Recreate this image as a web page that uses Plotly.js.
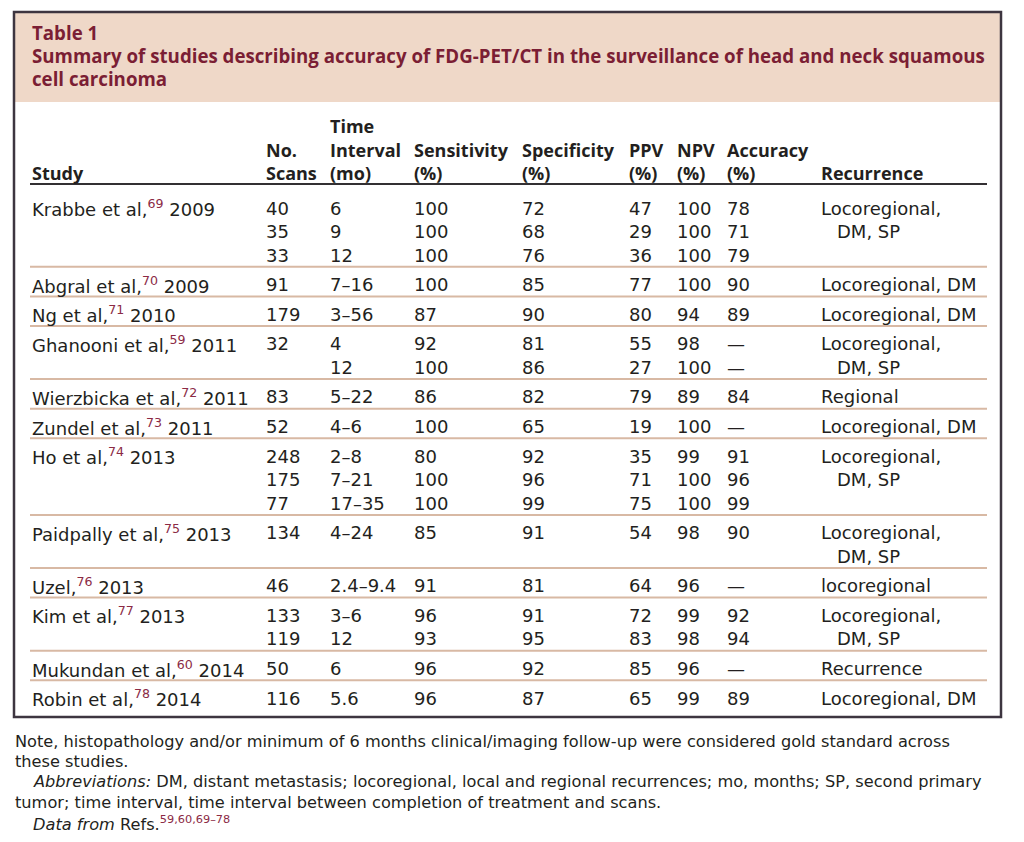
<!DOCTYPE html>
<html>
<head>
<meta charset="utf-8">
<script src="https://cdn.plot.ly/plotly-3.0.1.min.js"></script>
<style>html,body{margin:0;padding:0;background:#fff;}#chart{width:1024px;height:842px;}</style>
</head>
<body>
<div id="chart"></div>
<script>
// ---------- DATA ----------
const tableNumber = "Table 1";
const tableTitle = ["Summary of studies describing accuracy of FDG-PET/CT in the surveillance of head and neck squamous", "cell carcinoma"];
const headers = [["Study"], ["No.", "Scans"], ["Time", "Interval", "(mo)"], ["Sensitivity", "(%)"], ["Specificity", "(%)"], ["PPV", "(%)"], ["NPV", "(%)"], ["Accuracy", "(%)"], ["Recurrence"]];
const studies = ["Krabbe et al,", "Abgral et al,", "Ng et al,", "Ghanooni et al,", "Wierzbicka et al,", "Zundel et al,", "Ho et al,", "Paidpally et al,", "Uzel,", "Kim et al,", "Mukundan et al,", "Robin et al,"];
const refs = ["69", "70", "71", "59", "72", "73", "74", "75", "76", "77", "60", "78"];
const years = ["2009", "2009", "2010", "2011", "2011", "2011", "2013", "2013", "2013", "2013", "2014", "2014"];
const rowStudy = [0, 0, 0, 1, 2, 3, 3, 4, 5, 6, 6, 6, 7, 7, 8, 9, 9, 10, 11];
const scans = ["40", "35", "33", "91", "179", "32", "", "83", "52", "248", "175", "77", "134", "", "46", "133", "119", "50", "116"];
const interval = ["6", "9", "12", "7–16", "3–56", "4", "12", "5–22", "4–6", "2–8", "7–21", "17–35", "4–24", "", "2.4–9.4", "3–6", "12", "6", "5.6"];
const sensitivity = ["100", "100", "100", "100", "87", "92", "100", "86", "100", "80", "100", "100", "85", "", "91", "96", "93", "96", "96"];
const specificity = ["72", "68", "76", "85", "90", "81", "86", "82", "65", "92", "96", "99", "91", "", "81", "91", "95", "92", "87"];
const ppv = ["47", "29", "36", "77", "80", "55", "27", "79", "19", "35", "71", "75", "54", "", "64", "72", "83", "85", "65"];
const npv = ["100", "100", "100", "100", "94", "98", "100", "89", "100", "99", "100", "100", "98", "", "96", "99", "98", "96", "99"];
const accuracy = ["78", "71", "79", "90", "89", "—", "—", "84", "—", "91", "96", "99", "90", "", "—", "92", "94", "—", "89"];
const recurrence = ["Locoregional,", "DM, SP", "", "Locoregional, DM", "Locoregional, DM", "Locoregional,", "DM, SP", "Regional", "Locoregional, DM", "Locoregional,", "DM, SP", "", "Locoregional,", "DM, SP", "locoregional", "Locoregional,", "DM, SP", "Recurrence", "Locoregional, DM"];
const notes = [
  "Note, histopathology and/or minimum of 6 months clinical/imaging follow-up were considered gold standard across",
  "these studies.",
  "<i>Abbreviations:</i> DM, distant metastasis; locoregional, local and regional recurrences; mo, months; SP, second primary",
  "tumor; time interval, time interval between completion of treatment and scans.",
  "<i>Data from</i> Refs.<sup style=\"color:#8b2a45\">59,60,69–78</sup>"
];

// ---------- LAYOUT / STYLE ----------
const FONT_BOLD = "'Open Sans', 'Noto Sans', sans-serif";
const FONT_BODY = "'DejaVu Sans', 'Open Sans', sans-serif";
const TXT = "#231f20";
const RED = "#7b1e34";
const SUPRED = "#8b2a45";
const colX = [30, 264, 328, 412, 520, 627, 675, 725, 819];
const recurIndent = 16;
const lineX0 = 30, lineX1 = 987;
const firstRowY = 208, rowStep = 23.5, groupStep = 29.6, sepOffset = 11.8;
const BODY = 18, HEAD = 18, TITLE = 18.7, NOTE = 16.2;

const annotations = [];
const shapes = [];
function addText(x, y, text, size, color, bold, family) {
  annotations.push({
    xref: "x", yref: "y", x: x, y: y, text: bold ? "<b>" + text + "</b>" : text,
    showarrow: false, xanchor: "left", yanchor: "middle", align: "left",
    font: {family: family, size: size, color: color}
  });
}

// Header band
shapes.push({type: "rect", xref: "x", yref: "y", x0: 14, x1: 1001, y0: 12, y1: 102, fillcolor: "#efd8c8", line: {width: 0}, layer: "below"});
// Title
addText(30, 32, tableNumber, TITLE, RED, true, FONT_BOLD);
tableTitle.forEach((t, i) => addText(30, 55 + i * 23, t, TITLE, RED, true, FONT_BOLD));

// Column headers (bottom aligned)
const headBottom = 173;
headers.forEach((lines, c) => {
  lines.forEach((ln, i) => {
    const y = headBottom - (lines.length - 1 - i) * 23.5;
    addText(colX[c], y, ln, HEAD, TXT, true, FONT_BOLD);
  });
});
shapes.push({type: "line", xref: "x", yref: "y", x0: lineX0, x1: lineX1, y0: 184, y1: 184, line: {color: "#333033", width: 2}});

// Body rows: y positions from row order and group breaks
const rowY = [];
rowStudy.forEach((g, r) => {
  let y = firstRowY;
  if (r > 0) {
    if (g !== rowStudy[r - 1]) {
      const sepY = rowY[r - 1] + sepOffset;
      shapes.push({type: "line", xref: "x", yref: "y", x0: lineX0, x1: lineX1, y0: sepY, y1: sepY, line: {color: "#d8b9a4", width: 2}});
      y = rowY[r - 1] + groupStep;
    } else {
      y = rowY[r - 1] + rowStep;
    }
  }
  rowY.push(y);
});

const cols = [null, scans, interval, sensitivity, specificity, ppv, npv, accuracy];
rowStudy.forEach((g, r) => {
  const first = r === 0 || rowStudy[r - 1] !== g;
  if (first) {
    addText(colX[0], rowY[r], studies[g] + "<sup style=\"color:" + SUPRED + "\">" + refs[g] + "</sup> " + years[g], BODY, TXT, false, FONT_BODY);
  }
  for (let c = 1; c < cols.length; c++) {
    if (cols[c][r]) addText(colX[c], rowY[r], cols[c][r], BODY, TXT, false, FONT_BODY);
  }
  if (recurrence[r]) addText(colX[8] + (first ? 0 : recurIndent), rowY[r], recurrence[r], BODY, TXT, false, FONT_BODY);
});

// Outer border
shapes.push({type: "rect", xref: "x", yref: "y", x0: 14, x1: 1001, y0: 12, y1: 717, line: {color: "#3d3540", width: 2.5}, fillcolor: "rgba(0,0,0,0)"});

// Notes
const noteY = [741, 761, 781, 802, 823];
const noteX = [13, 13, 31, 13, 31];
notes.forEach((n, i) => addText(noteX[i], noteY[i], n, NOTE, TXT, false, FONT_BODY));

const layout = {
  width: 1024, height: 842,
  margin: {l: 0, r: 0, t: 0, b: 0, pad: 0},
  paper_bgcolor: "#ffffff", plot_bgcolor: "#ffffff",
  showlegend: false,
  xaxis: {range: [0, 1024], visible: false, fixedrange: true},
  yaxis: {range: [842, 0], visible: false, fixedrange: true},
  shapes: shapes,
  annotations: annotations
};
const trace = {x: [0, 1024], y: [0, 842], mode: "markers", marker: {opacity: 0}, hoverinfo: "skip", type: "scatter"};
Plotly.newPlot("chart", [trace], layout, {displayModeBar: false, staticPlot: true});
</script>
</body>
</html>
